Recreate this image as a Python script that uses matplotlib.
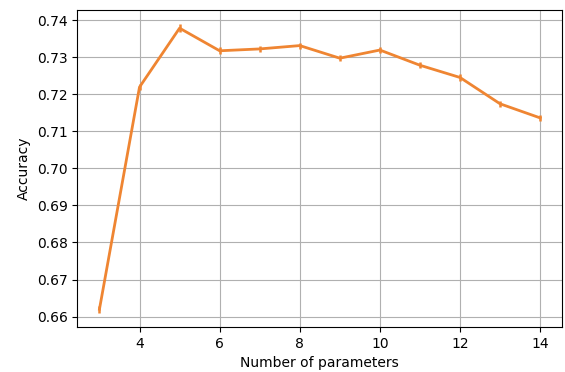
import matplotlib
matplotlib.use("Agg")
import matplotlib.pyplot as plt

n_params = [3, 4, 5, 6, 7, 8, 9, 10, 11, 12, 13, 14]
accuracy = [0.6620, 0.7219, 0.7378, 0.7317, 0.7322, 0.7331, 0.7297, 0.7319, 0.7278, 0.7245, 0.7174, 0.7136]
acc_err = [0.0009, 0.0008, 0.0010, 0.0009, 0.0009, 0.0008, 0.0008, 0.0008, 0.0008, 0.0009, 0.0008, 0.0008]

fig = plt.figure(figsize=(5.65, 3.72), dpi=100)
ax = fig.add_axes([0.137, 0.121, 0.858, 0.852])
ax.errorbar(n_params, accuracy, yerr=acc_err, color="#ef8532", lw=2, elinewidth=1.8)
ax.grid(True)
ax.set_xlabel("Number of parameters")
ax.set_ylabel("Accuracy")
fig.savefig("out.png", dpi=100)
